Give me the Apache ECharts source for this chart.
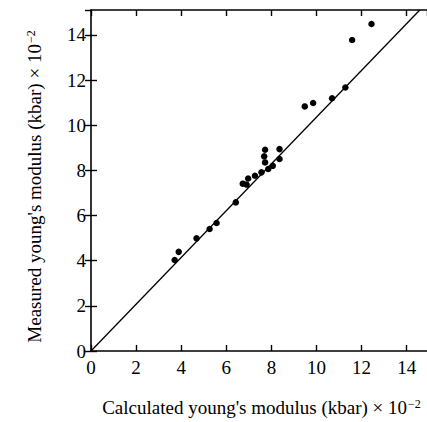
<!DOCTYPE html>
<html>
<head>
<meta charset="utf-8">
<script src="https://cdn.jsdelivr.net/npm/echarts@6/dist/echarts.min.js"></script>
<style>
html,body{margin:0;padding:0;background:#fff;}
#c{width:427px;height:422px;}
</style>
</head>
<body>
<div id="c"></div>
<script>
// Data
var calculated = [3.71, 3.89, 4.68, 5.26, 5.57, 6.42, 6.73, 6.90, 6.97, 7.27, 7.56, 7.86, 8.06, 7.72, 7.68, 7.72, 8.36, 8.36, 9.48, 9.85, 10.69, 11.28, 11.58, 12.44];
var measured   = [4.03, 4.39, 4.99, 5.40, 5.67, 6.58, 7.41, 7.37, 7.64, 7.76, 7.91, 8.06, 8.20, 8.35, 8.62, 8.91, 8.50, 8.94, 10.83, 10.98, 11.19, 11.67, 13.77, 14.48];
var lineX = [0, 14.58];
var lineY = [0, 15.1];
var xTitle = "Calculated young's modulus (kbar) × 10{sup|−2}";
var yTitle = "Measured young's modulus (kbar) × 10{sup|−2}";

var points = calculated.map(function (v, i) { return [v, measured[i]]; });
var linePts = lineX.map(function (v, i) { return [v, lineY[i]]; });

var font = 'Liberation Serif';
var rich = { sup: { fontSize: 12, fontFamily: font, color: '#000', verticalAlign: 'top', padding: [0, 0, 6, 1] } };
var tickRich = { t: { fontFamily: 'serif', fontSize: 19, color: '#000' } };
function tickFmt(v) { return '{t|' + v + '}'; }

function axisBase(extra) {
  var o = {
    type: 'value',
    interval: 2,
    splitLine: { show: false },
    axisLine: { show: true, onZero: false, lineStyle: { color: '#000', width: 1.6 } },
    axisTick: { show: true, inside: true, length: 6, lineStyle: { color: '#000', width: 1.4 } },
    axisLabel: { show: false }
  };
  for (var k in extra) o[k] = extra[k];
  return o;
}

var chart = echarts.init(document.getElementById('c'), null, { renderer: 'svg' });
chart.setOption({
  backgroundColor: '#fff',
  animation: false,
  grid: { left: 91, right: 0, top: 10, bottom: 70, containLabel: false },
  xAxis: [
    axisBase({
      position: 'bottom', min: 0, max: 14.9,
      axisLabel: { show: true, formatter: tickFmt, rich: tickRich, margin: 7, showMaxLabel: false },
      name: xTitle, nameLocation: 'middle', nameGap: 47,
      nameTextStyle: { color: '#000', fontFamily: font, fontSize: 19, rich: rich, padding: [0, 0, 0, 5] }
    }),
    axisBase({
      position: 'top', min: 0, max: 14.9
    })
  ],
  yAxis: [
    axisBase({
      position: 'left', min: 0, max: 15.1,
      axisLabel: { show: true, formatter: tickFmt, rich: tickRich, margin: 5, showMaxLabel: false },
      name: yTitle, nameLocation: 'middle', nameGap: 47,
      nameTextStyle: { color: '#000', fontFamily: font, fontSize: 19, rich: rich, padding: [0, 12, 0, 0] }
    }),
    axisBase({
      position: 'right', min: 0, max: 15.1,
      axisLine: { show: false }
    })
  ],
  series: [
    {
      type: 'line',
      data: linePts,
      symbol: 'none',
      clip: true,
      lineStyle: { color: '#000', width: 1.3 },
      silent: true
    },
    {
      type: 'scatter',
      data: points,
      symbol: 'circle',
      symbolSize: 6.5,
      itemStyle: { color: '#000', opacity: 1 }
    }
  ]
});
</script>
</body>
</html>
